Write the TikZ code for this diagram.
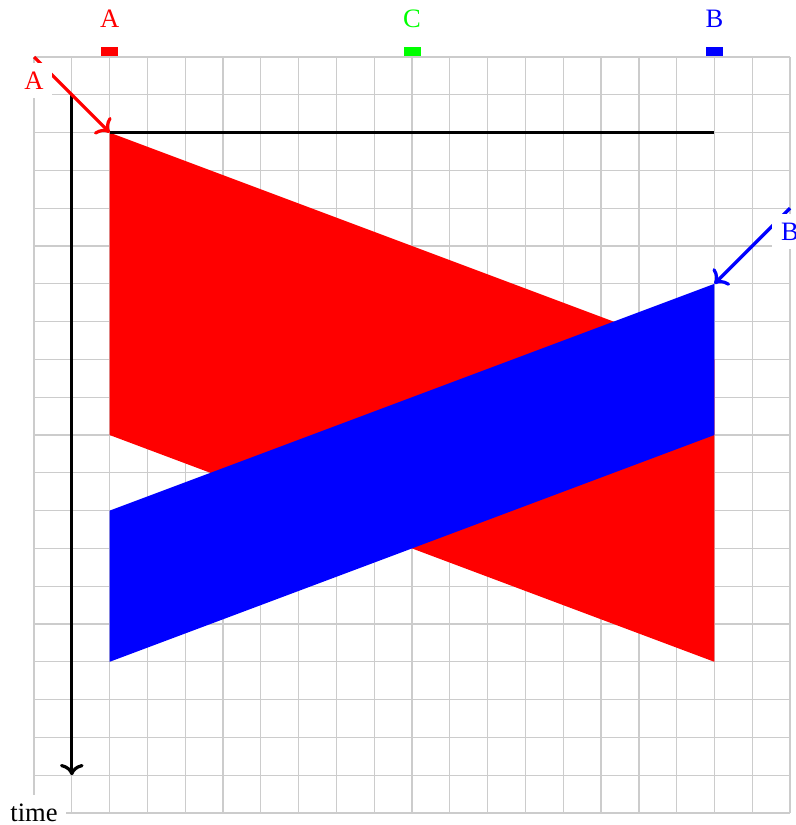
\documentclass[tikz,border=0pt]{standalone}
\usepackage{fontspec}
\setmainfont{Liberation Serif}
\usetikzlibrary{arrows.meta}

\begin{document}
\begin{tikzpicture}[x=0.5cm,y=-0.5cm]
\tikzset{
  gridline/.style={gray!40,line width=0.5pt},
  axis/.style={->,very thick},
  pinlabel/.style={below=2pt,fill=white,inner sep=3.33pt},
  marker/.style={anchor=south,minimum width=0.225cm,minimum height=0.127cm,inner sep=0pt},
  toplabel/.style={inner sep=1pt}
}
\useasboundingbox (-0.9,-1.508) rectangle (20.132,20.317);
\draw[gridline,step=0.5cm] (0,0) grid (20,20);
% the two bands
\coordinate (r_1) at (2,2);
\coordinate (r_2) at (18,8);
\coordinate (r_3) at (18,16);
\coordinate (r_4) at (2,10);
\coordinate (b_1) at (2,12);
\coordinate (b_2) at (18,6);
\coordinate (b_3) at (18,10);
\coordinate (b_4) at (2,16);
\fill[red] (r_1) -- (r_2) -- (r_3) -- (r_4) -- cycle;
\fill[blue] (b_1) -- (b_2) -- (b_3) -- (b_4) -- cycle;
\coordinate (h_end) at (18,2);
\draw[very thick] (r_1) -- (h_end);
% time axis
\coordinate (t_top) at (1,1);
\coordinate (t_bot) at (1,19);
\draw[axis] (t_top) -- (t_bot);
% pointers
\coordinate (c_a) at (0,0);
\coordinate (c_b) at (20,4);
\draw[axis,red] (c_a) -- (r_1);
\node[pinlabel,text=red] (n_pa) at (c_a) {A};
\draw[axis,blue] (c_b) -- (b_2);
\node[pinlabel,text=blue] (n_pb) at (c_b) {B};
\node[fill=white,inner sep=3.33pt] (n_time) at (0,20) {time};
% markers on top
\node[marker,fill=red] (m_a) at (2,0) {};
\node[marker,fill=green] (m_c) at (10,0) {};
\node[marker,fill=blue] (m_b) at (18,0) {};
\node[toplabel,text=red] (n_a) at (2,-1.0) {A};
\node[toplabel,text=green] (n_c) at (10,-1.0) {C};
\node[toplabel,text=blue] (n_b) at (18,-1.0) {B};
\end{tikzpicture}
\end{document}
